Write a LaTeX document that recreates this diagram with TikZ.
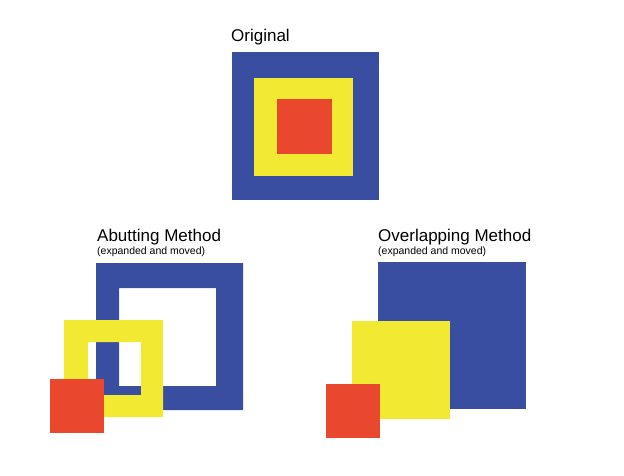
\documentclass[tikz,border=0pt]{standalone}
\usepackage{fontspec}
\setmainfont{Liberation Sans}
\definecolor{sqblue}{RGB}{57,78,160}
\definecolor{sqyellow}{RGB}{242,234,50}
\definecolor{sqred}{RGB}{233,72,47}
\tikzset{
  title/.style={anchor=base west,inner sep=0pt,font=\fontsize{17}{20}\selectfont},
  subtitle/.style={anchor=base west,inner sep=0pt,font=\fontsize{10.5}{12}\selectfont},
}

\begin{document}
\begin{tikzpicture}[x=1pt,y=-1pt]
\useasboundingbox (0,0) rectangle (624,476);
% original
\node[title] (orig) at (231,41.7) {Original};
\fill[sqblue] (232,52) rectangle (379,200);
\fill[sqyellow] (254,78) rectangle (353,176);
\fill[sqred] (277,99) rectangle (332,154);
% abutting method
\node[title] (abut) at (97,241.7) {Abutting Method};
\node[subtitle] (abutsub) at (97,254.3) {(expanded and moved)};
\fill[sqblue,even odd rule] (96,263) rectangle (243,410) (119,288) rectangle (216,386);
\fill[sqyellow,even odd rule] (64,320) rectangle (163,417) (88,342) rectangle (141,395);
\fill[sqred] (50,379) rectangle (104,433);
% overlapping method
\node[title] (over) at (378,241.7) {Overlapping Method};
\node[subtitle] (oversub) at (378,254.3) {(expanded and moved)};
\fill[sqblue] (378,262) rectangle (526,409);
\fill[sqyellow] (352,321) rectangle (450,419);
\fill[sqred] (326,384) rectangle (380,438);
\end{tikzpicture}
\end{document}
